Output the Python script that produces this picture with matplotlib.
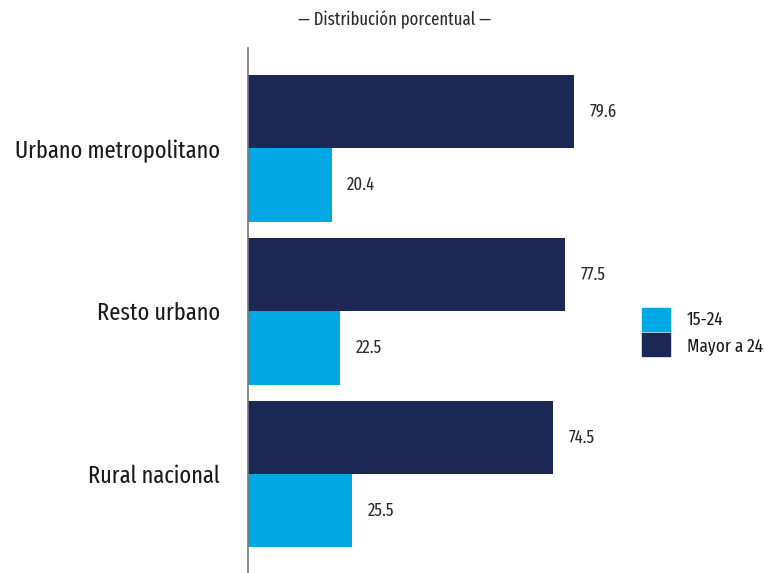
import matplotlib
matplotlib.use("Agg")
import matplotlib.pyplot as plt
from matplotlib.patches import Patch

# datos
categorias = ["Urbano metropolitano", "Resto urbano", "Rural nacional"]
mayor_24 = [79.6, 77.5, 74.5]
jovenes_15_24 = [20.4, 22.5, 25.5]
series = ["15-24", "Mayor a 24"]

azul_osc = "#1b2855"
azul_cla = "#00a8e4"

plt.rcParams["font.family"] = ["Fira Sans Extra Condensed", "Roboto Condensed", "DejaVu Sans"]
plt.rcParams["font.weight"] = "normal"

fig = plt.figure(figsize=(7.64, 5.73), dpi=100)
ax = fig.add_axes([248 / 764, 0, 409.5 / 764, 525 / 573])

h = 0.45
pos = list(range(len(categorias)))
ax.barh([p - h / 2 for p in pos], mayor_24, height=h, color=azul_osc)
ax.barh([p + h / 2 for p in pos], jovenes_15_24, height=h, color=azul_cla)

for p, v in zip(pos, mayor_24):
    ax.annotate(f"{v:.1f}", (v, p - h / 2), xytext=(11, 0), textcoords="offset points",
                va="center", ha="left", fontsize=13, color="#2a2a2a")
for p, v in zip(pos, jovenes_15_24):
    ax.annotate(f"{v:.1f}", (v, p + h / 2), xytext=(11, 0), textcoords="offset points",
                va="center", ha="left", fontsize=13, color="#2a2a2a")

ax.set_xlim(0, 100)
ax.set_ylim(2.607, -0.617)
ax.set_yticks(pos)
ax.set_yticklabels(categorias, fontsize=17.5, color="#1a1a1a")
ax.tick_params(axis="y", length=0, pad=20)
ax.set_xticks([])
for s in ["top", "right", "bottom"]:
    ax.spines[s].set_visible(False)
ax.spines["left"].set_color("#777777")
ax.spines["left"].set_linewidth(1.2)

fig.text(395 / 764, 1 - 20 / 573, "— Distribución porcentual —", ha="center", va="center",
         fontsize=13, color="#2a2a2a")

handles = [Patch(color=azul_cla), Patch(color=azul_osc)]
fig.legend(handles, series, loc="center left", bbox_to_anchor=(627 / 764, 1 - 332 / 573),
           frameon=False, fontsize=13.5, handlelength=1.5, handleheight=1.5,
           handletextpad=0.9, labelspacing=0.15, borderpad=0.3, labelcolor="#1a1a1a")

fig.savefig("out.png", dpi=100)
